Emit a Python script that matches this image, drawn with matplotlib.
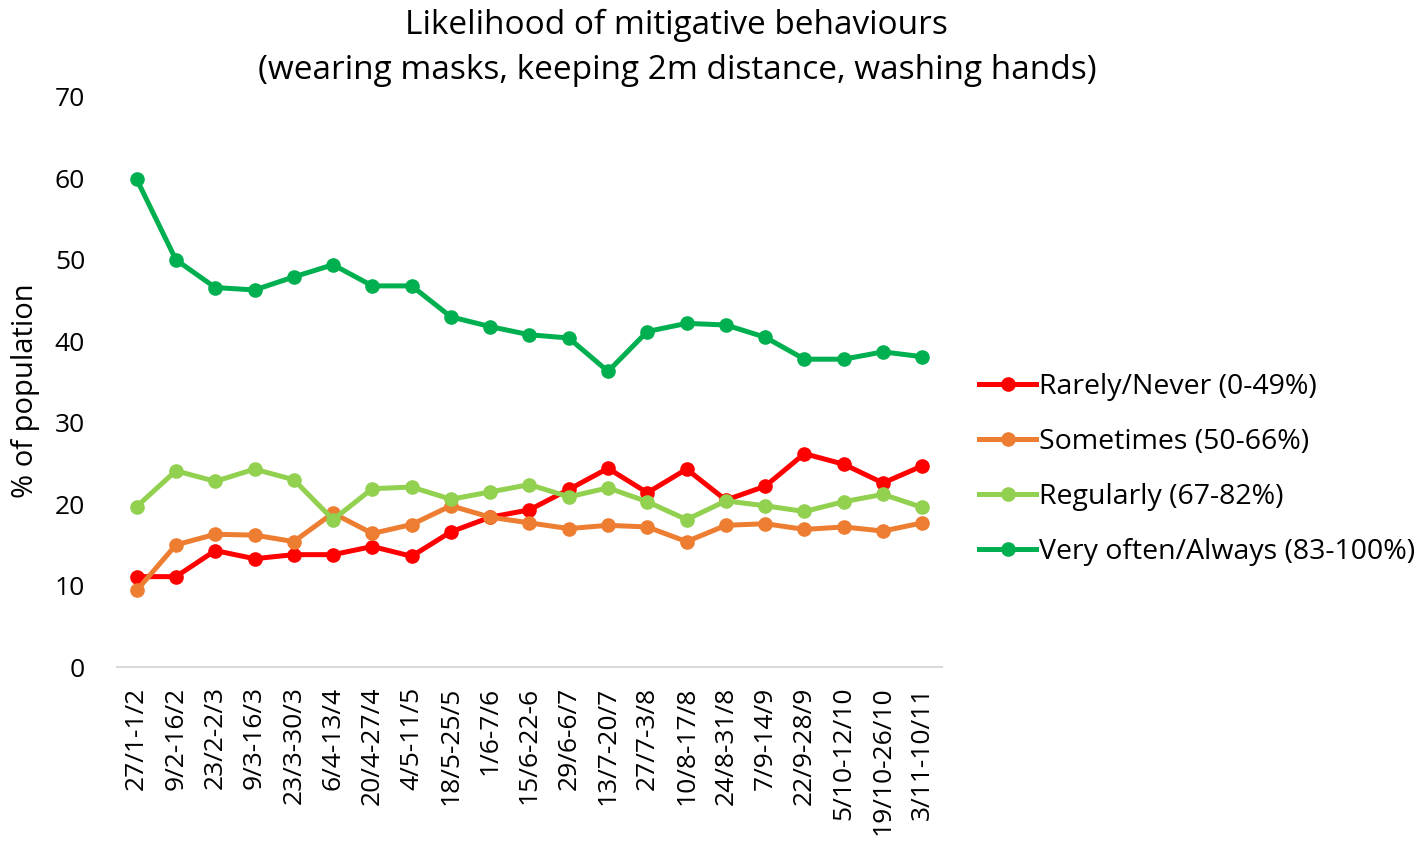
import matplotlib.pyplot as plt
import numpy as np

plt.rcParams['font.family'] = ['Open Sans', 'DejaVu Sans']

periods = ["27/1-1/2", "9/2-16/2", "23/2-2/3", "9/3-16/3", "23/3-30/3", "6/4-13/4",
           "20/4-27/4", "4/5-11/5", "18/5-25/5", "1/6-7/6", "15/6-22-6", "29/6-6/7",
           "13/7-20/7", "27/7-3/8", "10/8-17/8", "24/8-31/8", "7/9-14/9", "22/9-28/9",
           "5/10-12/10", "19/10-26/10", "3/11-10/11"]

rarely = [11.1, 11.1, 14.3, 13.3, 13.8, 13.8, 14.8, 13.6, 16.6, 18.4, 19.3, 21.8,
          24.4, 21.4, 24.3, 20.5, 22.2, 26.2, 24.9, 22.6, 24.7]
sometimes = [9.4, 15.0, 16.3, 16.2, 15.4, 18.9, 16.4, 17.5, 19.8, 18.4, 17.7, 17.0,
             17.4, 17.2, 15.4, 17.4, 17.6, 16.9, 17.2, 16.7, 17.7]
regularly = [19.7, 24.1, 22.8, 24.3, 23.0, 18.1, 21.9, 22.1, 20.6, 21.5, 22.4, 20.9,
             22.0, 20.3, 18.1, 20.4, 19.8, 19.1, 20.3, 21.2, 19.6]
very_often = [59.9, 50.0, 46.6, 46.3, 47.9, 49.4, 46.8, 46.8, 43.0, 41.8, 40.8, 40.4,
              36.3, 41.2, 42.2, 42.0, 40.5, 37.8, 37.8, 38.7, 38.1]

series = [
    ("Rarely/Never (0-49%)", rarely, "#FF0000"),
    ("Sometimes (50-66%)", sometimes, "#ED7D31"),
    ("Regularly (67-82%)", regularly, "#92D050"),
    ("Very often/Always (83-100%)", very_often, "#00B050"),
]

fig = plt.figure(figsize=(14.22, 8.52), dpi=100)
ax = fig.add_axes([0.0823, 0.2171, 0.5801, 0.6691])

x = np.arange(len(periods))
for label, vals, col in series:
    ax.plot(x, vals, color=col, linewidth=3.6, marker="o", markersize=9.5, label=label)

ax.set_xlim(-0.5, len(periods) - 0.5)
ax.set_ylim(0, 70)
ax.set_yticks(range(0, 71, 10))
ax.set_xticks(x)
ax.set_xticklabels(periods, rotation=90)
ax.tick_params(axis="both", length=0, labelsize=19)
ax.tick_params(axis="y", pad=23)
ax.tick_params(axis="x", pad=14)

for side in ["top", "right", "left"]:
    ax.spines[side].set_visible(False)
ax.spines["bottom"].set_color("#D9D9D9")
ax.spines["bottom"].set_linewidth(1.5)

ax.set_ylabel("% of population", fontsize=21)
ax.yaxis.set_label_coords(-0.093, 0.484)

fig.text(0.476, 0.99, "Likelihood of mitigative behaviours\n(wearing masks, keeping 2m distance, washing hands)",
         ha="center", va="top", fontsize=24, linespacing=1.5)

fig.legend(loc="center left", bbox_to_anchor=(0.6706, 0.449), frameon=False,
           fontsize=20.5, handlelength=2.0, handletextpad=0.1, labelspacing=0.95)

fig.savefig("out.png", dpi=100)
